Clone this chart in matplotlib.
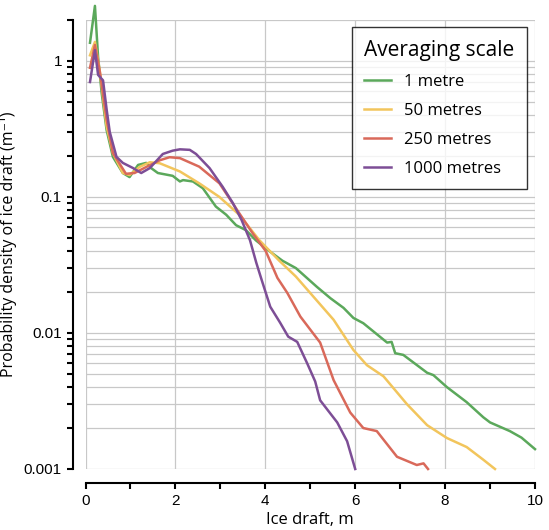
import matplotlib
matplotlib.use("Agg")
import matplotlib.pyplot as plt
from matplotlib.ticker import LogLocator, FixedLocator, NullFormatter

# Ice draft (m) and probability density (1/m)
x_1m = [0.10, 0.21, 0.28, 0.36, 0.47, 0.61, 0.83, 0.98, 1.17, 1.35, 1.46, 1.61, 1.94,
        2.10, 2.17, 2.39, 2.61, 2.90, 3.13, 3.35, 3.57, 3.79, 4.09, 4.38, 4.68, 5.15,
        5.45, 5.74, 5.96, 6.18, 6.71, 6.81, 6.89, 7.07, 7.60, 7.74, 8.04, 8.48, 8.85,
        9.00, 9.44, 9.70, 10.0]
y_1m = [1.36, 2.54, 1.07, 0.58, 0.31, 0.197, 0.15, 0.14, 0.172, 0.178, 0.163, 0.15,
        0.143, 0.130, 0.133, 0.130, 0.116, 0.085, 0.074, 0.062, 0.057, 0.048, 0.040,
        0.034, 0.030, 0.0218, 0.018, 0.0153, 0.0129, 0.0118, 0.0085, 0.0086, 0.0071,
        0.0069, 0.0051, 0.0049, 0.0040, 0.0031, 0.0024, 0.0022, 0.0019, 0.0017, 0.0014]

x_50m = [0.10, 0.21, 0.32, 0.47, 0.61, 0.83, 0.98, 1.20, 1.43, 1.65, 2.10, 2.53, 2.98,
         3.42, 3.87, 4.31, 4.68, 5.07, 5.52, 5.96, 6.26, 6.63, 7.15, 7.60, 8.04, 8.48,
         8.85, 9.11]
y_50m = [1.10, 1.38, 0.83, 0.33, 0.21, 0.15, 0.145, 0.166, 0.18, 0.177, 0.154, 0.126,
         0.10, 0.074, 0.048, 0.034, 0.026, 0.0185, 0.0125, 0.0075, 0.0058, 0.0048,
         0.0030, 0.0021, 0.00169, 0.00145, 0.00117, 0.001]

x_250m = [0.10, 0.21, 0.32, 0.47, 0.61, 0.90, 1.09, 1.35, 1.65, 1.87, 2.10, 2.53, 2.98,
          3.42, 3.72, 4.01, 4.27, 4.49, 4.78, 5.22, 5.52, 5.89, 6.18, 6.48, 6.93, 7.37,
          7.52, 7.62]
y_250m = [0.89, 1.31, 0.83, 0.37, 0.21, 0.148, 0.15, 0.166, 0.186, 0.196, 0.193, 0.167,
          0.126, 0.076, 0.054, 0.040, 0.0254, 0.0197, 0.0132, 0.0085, 0.0045, 0.0026,
          0.0020, 0.0019, 0.00123, 0.00107, 0.0011, 0.001]

x_1000m = [0.10, 0.21, 0.28, 0.39, 0.47, 0.54, 0.69, 0.83, 1.06, 1.24, 1.43, 1.72, 1.94,
           2.10, 2.32, 2.46, 2.76, 3.05, 3.28, 3.47, 3.66, 3.80, 3.92, 4.11, 4.33, 4.51,
           4.71, 4.93, 5.11, 5.22, 5.60, 5.82, 6.00]
y_1000m = [0.70, 1.20, 0.79, 0.72, 0.44, 0.30, 0.197, 0.178, 0.163, 0.15, 0.163, 0.207,
           0.219, 0.224, 0.222, 0.207, 0.163, 0.119, 0.090, 0.068, 0.048, 0.0328, 0.0245,
           0.0156, 0.0119, 0.0094, 0.0086, 0.0060, 0.0044, 0.0032, 0.0022, 0.0016, 0.001]

series = [
    ("1 metre", x_1m, y_1m, "#5ba85b"),
    ("50 metres", x_50m, y_50m, "#f2c55c"),
    ("250 metres", x_250m, y_250m, "#d9695a"),
    ("1000 metres", x_1000m, y_1000m, "#7d4e96"),
]

plt.rcParams['font.family'] = ['Open Sans', 'DejaVu Sans']

fig = plt.figure(figsize=(5.49, 5.30), dpi=100)
ax = fig.add_axes([85.5 / 549, 1 - 469 / 530, 449.5 / 549, 449 / 530])

for name, xs, ys, col in series:
    ax.plot(xs, ys, color=col, lw=1.8, label=name, clip_on=False, zorder=3)

ax.set_yscale("log")
ax.set_xlim(0, 10)
ax.set_ylim(0.001, 2)

ax.xaxis.set_major_locator(FixedLocator([0, 2, 4, 6, 8, 10]))
ax.xaxis.set_minor_locator(FixedLocator([1, 3, 5, 7, 9]))
ax.yaxis.set_major_locator(FixedLocator([0.001, 0.01, 0.1, 1]))
ax.yaxis.set_minor_locator(LogLocator(base=10, subs=range(2, 10)))
ax.yaxis.set_minor_formatter(NullFormatter())
ax.set_yticklabels(["0.001", "0.01", "0.1", "1"])

ax.grid(True, which="major", axis="x", color="#c8c8c8", lw=0.9)
ax.grid(True, which="both", axis="y", color="#c8c8c8", lw=0.9)
ax.set_axisbelow(True)

for s in ["top", "right"]:
    ax.spines[s].set_visible(False)
ax.spines["left"].set_position(("outward", 9))
ax.spines["bottom"].set_position(("outward", 10))
ax.spines["left"].set_linewidth(1.5)
ax.spines["bottom"].set_linewidth(1.5)

ax.tick_params(which="both", direction="out", length=4, width=1.5,
               labelsize=11, pad=4)
for lab in ax.get_xticklabels() + ax.get_yticklabels():
    lab.set_fontfamily("Liberation Sans")

ax.set_xlabel("Ice draft, m", fontsize=12, labelpad=3)
ax.set_ylabel("Probability density of ice draft (m⁻¹)", fontsize=11.5, labelpad=5)

leg = ax.legend(title="Averaging scale", loc="upper right",
                bbox_to_anchor=(0.982, 0.984), borderaxespad=0, fontsize=12,
                title_fontsize=15, frameon=True, fancybox=False,
                handlelength=1.6, handletextpad=0.8, labelspacing=0.78,
                borderpad=0.75, alignment="left")
leg.get_frame().set_edgecolor("black")
leg.get_frame().set_linewidth(1.0)

fig.savefig("out.png", dpi=100)
